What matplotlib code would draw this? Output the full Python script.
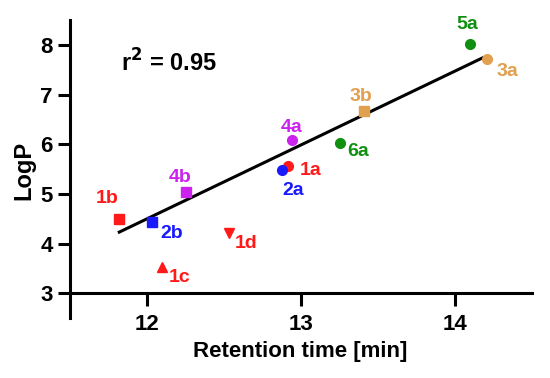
import matplotlib
matplotlib.use("Agg")
import matplotlib.pyplot as plt

plt.rcParams['font.family'] = ['Liberation Sans', 'DejaVu Sans']
plt.rcParams['font.weight'] = 'bold'

# Data
labels = ['5a', '3a', '3b', '4a', '6a', '1a', '2a', '4b', '1b', '2b', '1d', '1c']
rt = [14.095, 14.206, 13.41, 12.944, 13.25, 12.918, 12.879, 12.25, 11.82, 12.03, 12.53, 12.10]
logp = [8.02, 7.72, 6.67, 6.08, 6.02, 5.56, 5.48, 5.04, 4.49, 4.43, 4.21, 3.52]
markers = ['o', 'o', 's', 'o', 'o', 'o', 'o', 's', 's', 's', 'v', '^']
colors = ['#109010', '#E0A050', '#E0A050', '#CC22EE', '#109010', '#FF1A1A',
          '#1A1AFF', '#CC22EE', '#FF1A1A', '#1A1AFF', '#FF1A1A', '#FF1A1A']
# label offsets in pixels (dx, dy)
offsets = [(-2, 19), (21, -13), (-3, 14), (-1, 13), (19, -8), (22, -4),
           (11, -20), (-5, 14), (-12, 21), (20, -11), (17, -10), (17, -10)]

fit_x = [11.82, 14.18]
fit_y = [4.23, 7.74]

xticks = [12, 13, 14]
yticks = [3, 4, 5, 6, 7, 8]

fig = plt.figure(figsize=(5.5, 3.78), dpi=100)
ax = fig.add_axes([0.1273, 0.1587, 0.84, 0.7883])

ax.plot(fit_x, fit_y, color='black', lw=2.2, zorder=2)
for x, y, m, c in zip(rt, logp, markers, colors):
    ax.plot(x, y, marker=m, color=c, ms=7, ls='none', zorder=3)
for lab, x, y, c, (dx, dy) in zip(labels, rt, logp, colors, offsets):
    ax.annotate(lab, (x, y), xytext=(dx, dy), textcoords='offset pixels',
                ha='center', va='center', color=c, fontsize=14, fontweight='bold')

ax.set_xlim(11.5, 14.5)
ax.set_ylim(2.5, 8.5)
ax.set_xticks(xticks)
ax.set_yticks(yticks)
for s in ['top', 'right']:
    ax.spines[s].set_visible(False)
ax.spines['bottom'].set_position(('data', 3))
for s in ['left', 'bottom']:
    ax.spines[s].set_linewidth(2.2)
ax.tick_params(axis='both', width=2.2, length=9, labelsize=16, direction='out')
ax.tick_params(axis='x', pad=6)
for t in ax.get_xticklabels() + ax.get_yticklabels():
    t.set_fontweight('bold')

fig.text(169 / 550, 1 - 63 / 378, r'r$^\mathbf{2}$ = 0.95', fontsize=17,
         fontweight='bold', ha='center', va='center')
fig.text(300 / 550, 1 - 352 / 378, 'Retention time [min]', fontsize=16,
         fontweight='bold', ha='center', va='center')
fig.text(24 / 550, 1 - 170 / 378, 'LogP', fontsize=17, fontweight='bold',
         ha='center', va='center', rotation=90)

fig.savefig('out.png', dpi=100)
